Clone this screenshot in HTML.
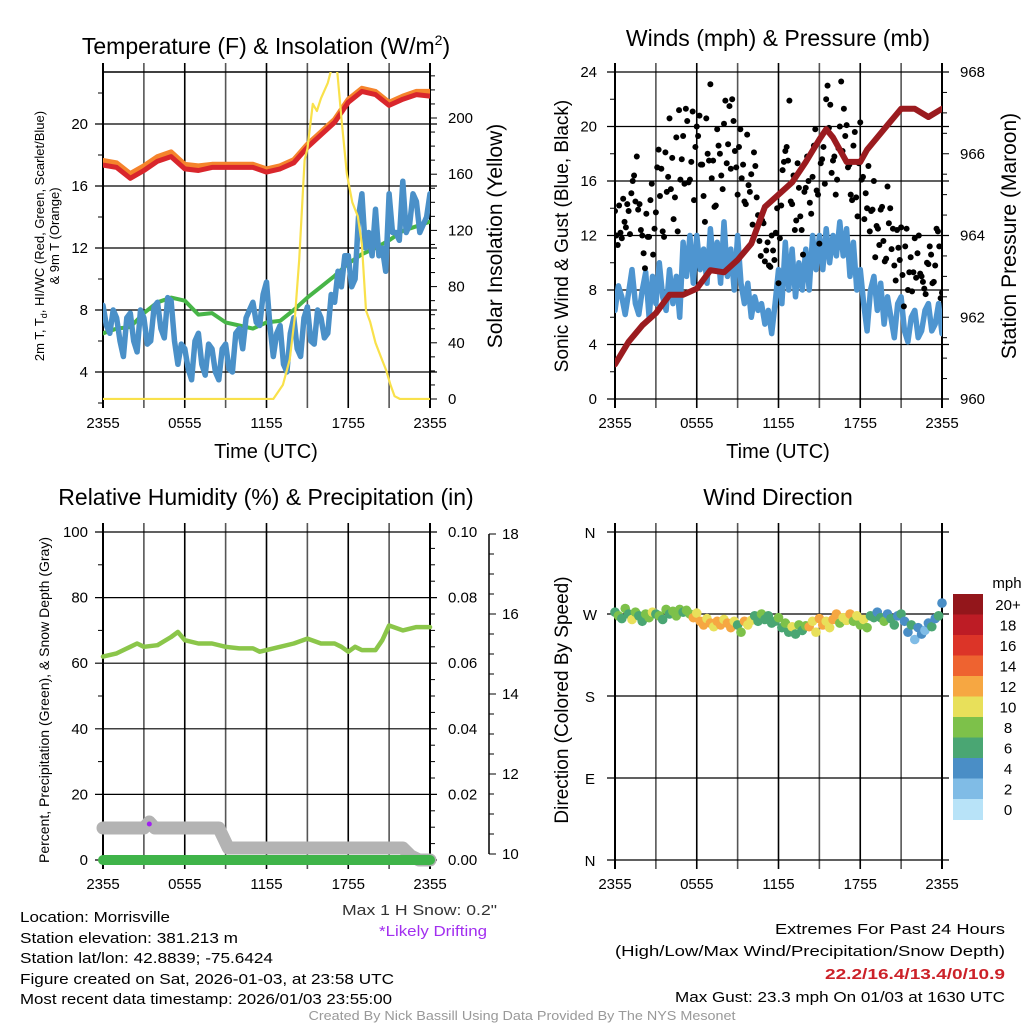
<!DOCTYPE html>
<html><head><meta charset="utf-8"><style>
html,body{margin:0;padding:0;background:#fff;}
svg{display:block;font-family:"Liberation Sans",sans-serif;}
</style></head><body>
<svg id="fig" width="1024" height="1024" viewBox="0 0 1024 1024" xmlns="http://www.w3.org/2000/svg">
<defs>
<clipPath id="c1"><rect x="103" y="72" width="327" height="328"/></clipPath>
<clipPath id="c2"><rect x="615" y="72" width="327" height="328"/></clipPath>
<clipPath id="c3"><rect x="95" y="525" width="345" height="345"/></clipPath>
<clipPath id="c4"><rect x="605" y="525" width="345" height="345"/></clipPath>
</defs>
<g id="layer-grid"></g>
<g id="layer-data"></g>
<g id="layer-text" font-size="15" fill="#000">
<text x="266" y="54" font-size="23" text-anchor="middle">Temperature (F) &amp; Insolation (W/m<tspan font-size="14" dy="-9">2</tspan><tspan dy="9">)</tspan></text>
<text x="778" y="46" font-size="23" text-anchor="middle">Winds (mph) &amp; Pressure (mb)</text>
<text x="266" y="505" font-size="23" text-anchor="middle">Relative Humidity (%) &amp; Precipitation (in)</text>
<text x="778" y="505" font-size="23" text-anchor="middle">Wind Direction</text>
<text x="266" y="458" font-size="20" text-anchor="middle">Time (UTC)</text>
<text x="778" y="458" font-size="20" text-anchor="middle">Time (UTC)</text>
<text transform="translate(44,236) rotate(-90)" font-size="13" text-anchor="middle">2m T, T<tspan font-size="9" dy="3">d</tspan><tspan dy="-3">, HI/WC (Red, Green, Scarlet/Blue)</tspan></text>
<text transform="translate(59,236) rotate(-90)" font-size="13" text-anchor="middle">&amp; 9m T (Orange)</text>
<text transform="translate(502,236) rotate(-90)" font-size="21" text-anchor="middle">Solar Insolation (Yellow)</text>
<text transform="translate(568,236) rotate(-90)" font-size="19" text-anchor="middle">Sonic Wind &amp; Gust (Blue, Black)</text>
<text transform="translate(1016,236) rotate(-90)" font-size="21" text-anchor="middle">Station Pressure (Maroon)</text>
<text transform="translate(49,700) rotate(-90)" font-size="14" text-anchor="middle">Percent, Precipitation (Green), &amp; Snow Depth (Gray)</text>
<text transform="translate(568,700) rotate(-90)" font-size="19" text-anchor="middle">Direction (Colored By Speed)</text>
<text x="1007" y="588" font-size="15" text-anchor="middle">mph</text>
<text x="497" y="915" font-size="15" fill="#333" text-anchor="end" textLength="155" lengthAdjust="spacingAndGlyphs">Max 1 H Snow: 0.2"</text>
<text x="487" y="936" font-size="15" fill="#a22ef0" text-anchor="end" textLength="108" lengthAdjust="spacingAndGlyphs">*Likely Drifting</text>
<g font-size="15">
<text x="20" y="922" textLength="150" lengthAdjust="spacingAndGlyphs">Location: Morrisville</text>
<text x="20" y="943" textLength="218" lengthAdjust="spacingAndGlyphs">Station elevation: 381.213 m</text>
<text x="20" y="963" textLength="253" lengthAdjust="spacingAndGlyphs">Station lat/lon: 42.8839; -75.6424</text>
<text x="20" y="984" textLength="374" lengthAdjust="spacingAndGlyphs">Figure created on Sat, 2026-01-03, at 23:58 UTC</text>
<text x="20" y="1004" textLength="372" lengthAdjust="spacingAndGlyphs">Most recent data timestamp: 2026/01/03 23:55:00</text>
</g>
<g font-size="15" text-anchor="end">
<text x="1005" y="934" textLength="230" lengthAdjust="spacingAndGlyphs">Extremes For Past 24 Hours</text>
<text x="1005" y="956" textLength="390" lengthAdjust="spacingAndGlyphs">(High/Low/Max Wind/Precipitation/Snow Depth)</text>
<text x="1005" y="979" fill="#cc2229" font-weight="bold" textLength="180" lengthAdjust="spacingAndGlyphs">22.2/16.4/13.4/0/10.9</text>
<text x="1005" y="1002" textLength="330" lengthAdjust="spacingAndGlyphs">Max Gust: 23.3 mph On 01/03 at 1630 UTC</text>
</g>
<text x="522" y="1020" font-size="13" fill="#999" text-anchor="middle" textLength="427" lengthAdjust="spacingAndGlyphs">Created By Nick Bassill Using Data Provided By The NYS Mesonet</text>
</g>
</svg>
<script>
// ---- Temperature panel data (hours since 2355) ----
const tHours=[0,1,2,3,4,5,6,7,8,9,10,11,12,13,14,15,16,17,18,19,20,21,22,23,24];
const temp2m=[17.35,17.2,16.5,17.0,17.6,17.9,17.1,17.0,17.2,17.2,17.2,17.2,16.9,17.1,17.5,18.5,19.3,20.1,21.4,22.1,21.9,21.2,21.6,21.9,21.8];
const temp9m=[17.65,17.5,16.8,17.3,17.9,18.2,17.4,17.3,17.4,17.4,17.4,17.4,17.1,17.3,17.7,18.7,19.5,20.3,21.6,22.3,22.1,21.4,21.8,22.1,22.1];
const dewpt=[6.5,6.8,6.9,7.8,8.5,8.8,8.6,7.7,7.8,7.2,7.0,6.8,7.2,7.3,8.0,8.8,9.5,10.2,11.0,11.6,12.0,12.5,13.1,13.4,13.7];
const wcStep=0.25;
const windChill=[8.3,7.0,6.5,8.0,7.5,6.0,5.0,7.5,7.8,6.0,5.3,8.0,7.5,5.8,6.0,8.2,8.5,6.8,6.2,8.8,8.6,6.0,4.5,5.8,5.5,4.2,3.5,6.0,6.5,4.5,3.8,5.8,5.5,4.0,3.5,5.5,5.8,4.2,4.0,6.5,6.8,5.5,7.5,8.0,8.5,7.2,7.0,9.0,9.8,7.0,5.0,6.5,7.0,4.5,4.0,6.5,7.5,5.5,5.0,7.5,8.2,6.0,5.8,8.0,7.5,6.2,6.5,9.0,8.5,10.5,9.5,11.5,11.5,9.5,10.0,14.0,15.5,12.0,13.0,11.5,14.5,11.5,12.0,10.5,15.5,13.0,13.0,12.5,16.3,13.0,13.5,15.5,15.0,13.0,13.5,14.0,15.5];
const solarHours=[0,12.5,13.2,13.7,14.1,14.4,14.8,15.0,15.4,15.7,16.0,16.5,16.9,17.2,17.5,17.9,18.3,18.7,19.0,19.3,19.6,20.0,20.4,20.8,21.1,21.4,21.8,24];
const solar=[0,0,10,28,60,99,170,178,210,205,214,225,240,232,200,160,140,130,110,63,55,40,30,20,10,2,0,0];
const tempTicks=[4,8,12,16,20];
const solarTicks=[0,40,80,120,160,200];
const timeLabels=["2355","0555","1155","1755","2355"];
// ---- Wind panel data ----
const presHours=[0,1,2,3,4,5,6,7,8,9,10,11,12,13,14,15,15.5,16,17,18,18.5,19,20,21,22,23,24];
const pressure=[960.85,961.4,961.8,962.1,962.55,962.55,962.7,963.15,963.1,963.4,963.8,964.7,965.0,965.3,965.8,966.35,966.6,966.4,965.8,965.8,966.1,966.3,966.7,967.1,967.1,966.9,967.1];
const windStep=0.25;
const windSpeed=[6.5,8.3,7.5,6.2,7.8,9.5,7.0,6.2,8.0,9.3,6.0,9.0,7.0,10.0,7.5,6.5,9.5,7.0,9.0,6.0,11.5,9.0,12.0,8.5,12.0,9.5,11.0,8.5,12.5,9.5,11.5,8.5,13.0,9.0,11.0,8.0,12.0,8.5,7.0,8.5,6.0,7.5,6.5,7.0,5.5,6.5,4.8,7.0,9.5,7.0,11.5,8.0,11.0,7.5,10.0,8.0,11.0,8.0,12.0,9.5,12.0,9.5,12.5,10.0,12.0,10.5,13.0,10.5,12.5,9.0,11.5,8.0,9.5,7.0,5.0,8.0,9.0,6.5,8.5,5.5,7.5,6.0,4.5,7.0,7.5,5.0,4.2,6.0,6.5,4.5,5.0,6.5,7.0,5.0,5.5,7.0,4.8];
const gust=[13.8,11.3,12.2,14.7,12.6,13.8,15.1,16.4,17.8,14.3,12.0,9.6,11.9,14.6,10.6,13.7,18.3,16.9,11.9,15.2,20.6,17.7,14.8,12.3,16.1,19.3,21.3,15.9,17.4,14.6,20.0,20.8,17.2,13.0,18.0,23.1,17.5,14.2,18.6,16.4,20.2,17.3,21.5,22.0,18.2,15.0,19.8,17.2,14.3,15.7,16.5,18.1,14.8,11.6,13.1,10.1,11.5,9.7,10.9,12.2,8.5,14.2,17.4,18.5,21.9,14.3,12.4,17.3,13.4,10.6,15.5,16.0,13.6,18.6,15.3,11.4,17.6,15.8,23.0,21.6,17.5,15.0,18.4,23.3,21.3,20.1,17.2,14.6,19.6,13.4,20.3,16.3,15.1,17.1,13.8,16.0,12.7,11.3,14.1,10.1,15.6,14.0,12.5,8.7,11.1,12.6,6.8,12.5,9.3,7.9,11.8,10.7,9.2,8.6,7.7,9.9,10.6,8.6,12.5,11.2,7.8];
const gustB=[12.0,14.2,11.8,13.0,14.3,12.1,16.0,14.5,13.9,12.4,10.7,13.6,11.9,15.8,12.5,17.0,14.9,12.3,18.1,16.3,15.4,13.2,19.2,21.2,17.6,15.8,20.4,16.1,21.1,18.5,19.3,17.2,14.9,20.6,17.5,16.2,14.1,19.8,18.0,15.4,21.9,18.7,16.9,20.4,17.0,18.5,16.2,14.5,19.4,15.2,12.8,17.1,13.5,10.5,12.9,10.9,9.8,12.0,10.2,14.0,11.8,16.8,18.2,17.5,14.5,16.4,13.1,15.5,12.4,15.2,17.8,14.4,16.3,19.8,15.0,17.3,18.5,22.0,19.9,16.6,17.8,16.1,20.0,18.2,19.3,17.0,15.0,18.6,14.8,17.3,16.1,13.2,14.0,12.3,13.9,10.4,12.5,13.9,11.6,10.3,12.9,11.0,9.8,12.4,10.2,9.1,11.2,8.0,10.4,9.3,8.9,12.0,9.0,8.1,10.0,11.2,8.5,9.8,12.3,7.4];
const windTicks=[0,4,8,12,16,20,24];
const presTicks=[960,962,964,966,968];
// ---- RH panel data ----
const rhHours=[0,1,2,2.5,3,4,5,5.5,6,7,8,9,10,11,11.5,12,13,14,15,16,17,17.5,18,18.5,19,20,20.5,21,22,23,24];
const rh=[62,63,65,66,65,65.5,68,69.5,67,66,66,65,64.5,64.5,63.5,64,65,66,67.5,66,66,65,63.5,65,64,64,67,71.5,70,71,71];
const precipHours=[0,24];
const precip=[0,0];
const snowHours=[0,3.0,3.4,3.8,8.5,9.2,22,22.6,23.2,24];
const snowDepth=[10.65,10.65,10.8,10.65,10.65,10.15,10.15,9.95,9.85,9.85];
const driftHours=[3.4];
const driftDepth=[10.75];
const rhTicks=[0,20,40,60,80,100];
const precipTicks=["0.00","0.02","0.04","0.06","0.08","0.10"];
const snowTicks=[10,12,14,16,18];
// ---- Wind direction data (every 0.25 h) ----
const dirDeg=[272,268,265,276,270,264,272,268,262,270,266,272,270,
268,264,275,270,273,268,275,272,274,270,266,271,
262,258,265,260,256,262,258,264,260,255,262,258,250,262,258,263,
268,262,270,264,268,260,262,266,
255,260,250,256,248,258,252,257,
256,262,250,265,258,262,255,264,270,260,266,263,
270,262,268,258,264,255,268,266,
272,266,262,270,265,258,268,270,
262,250,258,242,255,248,252,260,256,265,268,282];
const dirSpeed=[7,8,6,9,7,10,8,6,7,9,8,10,7,
8,6,9,7,8,9,8,7,8,9,12,11,
12,13,10,12,11,13,12,10,13,12,11,7,8,12,11,10,
7,6,8,6,7,6,7,8,
6,9,7,10,6,8,6,9,
12,11,10,13,12,11,10,13,12,8,11,10,
12,9,10,8,11,9,7,6,
5,6,8,4,6,7,4,6,
5,4,6,3,4,5,3,4,6,5,6,4];
const dirLabels=["N","E","S","W","N"];
const speedBins=["0","2","4","6","8","10","12","14","16","18","20+"];
const speedColors=["#b8e3f8","#80bce6","#4a8ec6","#4aa673","#7dc14a","#e8e05a","#f6a742","#ee6330","#dc3428","#bd1c25","#93161b"];

const NS="http://www.w3.org/2000/svg";
const G=document.getElementById('layer-grid'), D=document.getElementById('layer-data'), T=document.getElementById('layer-text');
function mk(tag,attrs,parent){const e=document.createElementNS(NS,tag);for(const k in attrs)e.setAttribute(k,attrs[k]);(parent||G).appendChild(e);return e;}
function txt(s,x,y,anchor,size,parent){const e=mk('text',{x:x,y:y,'text-anchor':anchor,'font-size':size},parent||T);e.textContent=s;return e;}

const X0a=103,X0b=615,W=327;
const xa=h=>X0a+h*W/24, xb=h=>X0b+h*W/24;
const yT=t=>124+(20-t)*15.5, yS=s=>399-s*1.405;
const yW=v=>399-v*13.625, yP=p=>399-(p-960)*40.875;
const yRH=v=>860-v*3.28, ySn=s=>854-(s-10)*40;
const yD=d=>860-d*328/360;

function vgrid(x0,top,bot){
  for(let i=0;i<=8;i++){const x=x0+i*W/8;
    const l=mk('line',{x1:x,y1:top-9,x2:x,y2:bot+9,stroke:(i%2==0)?'#000':'#555','stroke-width':(i==0||i==8)?2:1.6});
    
    
  }
  timeLabels.forEach((s,i)=>{const t=txt(s,x0+i*W/4,bot+29,'middle',15);
    
    });
}
function hgrid(x0,y){const l=mk('line',{x1:x0-8,y1:y,x2:x0+W+7,y2:y,stroke:'#000','stroke-width':1.2});
  
  }
function minor(x,y,dir){mk('line',{x1:x,y1:y,x2:x+dir*5,y2:y,stroke:'#000','stroke-width':1});}
function path(xs,ys,fx,fy,attrs,clip,name){
  const d=xs.map((h,i)=>(i?'L':'M')+fx(h).toFixed(1)+','+fy(ys[i]).toFixed(1)).join('');
  const p=mk('path',Object.assign({d:d,fill:'none','stroke-linejoin':'round','stroke-linecap':'round','clip-path':'url(#'+clip+')'},attrs),D);
  
  
  return p;
}
const wcHours=windChill.map((v,i)=>i*wcStep);
const windHours=windSpeed.map((v,i)=>i*windStep);

// ---- Panel 1 ----
vgrid(X0a,72,399);
mk('line',{x1:X0a,y1:72,x2:X0a+W,y2:72,stroke:'#000','stroke-width':1.5});
tempTicks.forEach(t=>{hgrid(X0a,yT(t));const e=txt(String(t),88,yT(t)+5,'end',15);});
for(let t=2;t<=22;t+=4){minor(X0a,yT(t),-1);}
solarTicks.forEach(s=>{mk('line',{x1:X0a+W,y1:yS(s),x2:X0a+W+7,y2:yS(s),stroke:'#000'});const e=txt(String(s),448,yS(s)+5,'start',15);});
for(let s=10;s<=230;s+=10){if(s%40)minor(X0a+W,yS(s),1);}
path(tHours,temp9m,xa,yT,{stroke:'#f5842c','stroke-width':5},'c1','temp-9m-line');
path(tHours,temp2m,xa,yT,{stroke:'#d9262c','stroke-width':5},'c1','temp-2m-line');
path(tHours,dewpt,xa,yT,{stroke:'#47b547','stroke-width':4},'c1','dewpoint-line');
path(wcHours,windChill,xa,yT,{stroke:'#4a90c8','stroke-width':5.5},'c1','windchill-line');
path(solarHours,solar,xa,yS,{stroke:'#f9e14b','stroke-width':2.2},'c1','solar-line');

// ---- Panel 2 ----
vgrid(X0b,72,399);
windTicks.forEach(v=>{hgrid(X0b,yW(v));const e=txt(String(v),597,yW(v)+5,'end',15);});
for(let v=2;v<=22;v+=4){minor(X0b,yW(v),-1);}
presTicks.forEach(p=>{mk('line',{x1:X0b+W,y1:yP(p),x2:X0b+W+7,y2:yP(p),stroke:'#000'});const e=txt(String(p),960,yP(p)+5,'start',15);});
for(let p=960.5;p<968;p+=0.5){if(p%2)minor(X0b+W,yP(p),1);}
path(windHours,windSpeed,xb,yW,{stroke:'#4e95d0','stroke-width':5.5},'c2','wind-speed-line');
gust.forEach((g,i)=>{const c=mk('circle',{cx:xb(i*0.2),cy:yW(g),r:3,fill:'#000','clip-path':'url(#c2)'},D);
  
  });
gustB.forEach((g,i)=>{const c=mk('circle',{cx:xb(0.1+i*0.2),cy:yW(g),r:3,fill:'#000','clip-path':'url(#c2)'},D);
  
  });
path(presHours,pressure,xb,yP,{stroke:'#9b1b1f','stroke-width':6},'c2','pressure-line');

// ---- Panel 3 ----
vgrid(X0a,532,860);
rhTicks.forEach((v,i)=>{hgrid(X0a,yRH(v));const e=txt(String(v),88,yRH(v)+5,'end',15);
  const f=txt(precipTicks[i],448,yRH(v)+5,'start',15);});
for(let v=10;v<100;v+=10){if(v%20)minor(X0a,yRH(v),-1);}
for(let v=5;v<100;v+=5){if(v%20)minor(X0a+W,yRH(v),1);}
mk('line',{x1:489,y1:ySn(18),x2:489,y2:ySn(10),stroke:'#000','stroke-width':1.5});
snowTicks.forEach(s=>{mk('line',{x1:489,y1:ySn(s),x2:496,y2:ySn(s),stroke:'#000'});const e=txt(String(s),502,ySn(s)+5,'start',15);});
for(let s=10.5;s<18;s+=0.5){if(s%2)minor(489,ySn(s),1);}
path(snowHours,snowDepth,xa,ySn,{stroke:'#b3b3b3','stroke-width':13},'c3','snow-depth-line');
path(precipHours,precip,xa,v=>yRH(v*1000),{stroke:'#3fb449','stroke-width':10},'c3','precip-line');
path(rhHours,rh,xa,yRH,{stroke:'#8bc64a','stroke-width':4.5},'c3','rh-line');
driftHours.forEach((h,i)=>{const c=mk('circle',{cx:xa(h),cy:ySn(driftDepth[i]),r:2.5,fill:'#a020f0'},D);
  
  });

// ---- Panel 4 ----
vgrid(X0b,532,860);
dirLabels.forEach((s,i)=>{const d=i*90;hgrid(X0b,yD(d));const e=txt(s,590,yD(d)+6,'middle',15);});
dirDeg.forEach((d,i)=>{const sp=dirSpeed[i];const bin=Math.min(10,Math.max(0,Math.floor(sp/2)));
  const c=mk('circle',{cx:xb(i*0.25),cy:yD(d),r:4.8,fill:speedColors[bin],'clip-path':'url(#c4)'},D);
  
  });
// colorbar
const cbTop=594,cbH=20.5;
speedBins.forEach((s,i)=>{const k=10-i;
  const r=mk('rect',{x:953,y:cbTop+i*cbH,width:30,height:cbH+0.5,fill:speedColors[k]},D);
  
  
  const e=txt(speedBins[k],1008,cbTop+i*cbH+16,'middle',15);
  
  });
</script>
</body></html>
